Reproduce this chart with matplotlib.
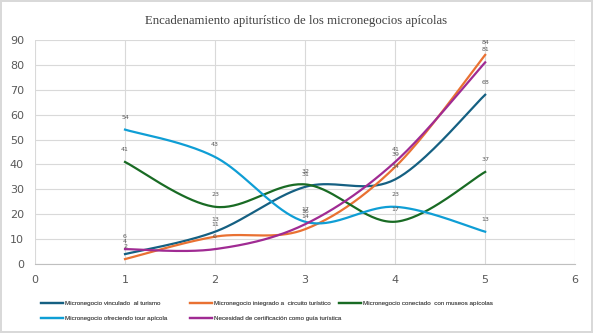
import matplotlib.pyplot as plt
import numpy as np

x = [1, 2, 3, 4, 5]
vinculado = [4, 13, 31, 34, 68]
integrado = [2, 11, 14, 39, 84]
conectado = [41, 23, 32, 17, 37]
tour = [54, 43, 17, 23, 13]
certificacion = [6, 6, 16, 41, 81]

series = [
    ("Micronegocio vinculado  al turismo", vinculado, "#156082"),
    ("Micronegocio integrado a  circuito turístico", integrado, "#E97132"),
    ("Micronegocio conectado  con museos apícolas", conectado, "#196B24"),
    ("Micronegocio ofreciendo tour apícola", tour, "#0F9ED5"),
    ("Necesidad de certificación como guía turística", certificacion, "#A02B93"),
]


def smooth(xs, ys, n=40):
    # catmull-rom through the points, like excel's smoothed line
    xs = np.asarray(xs, float)
    ys = np.asarray(ys, float)
    px = np.concatenate([[xs[0]], xs, [xs[-1]]])
    py = np.concatenate([[ys[0]], ys, [ys[-1]]])
    ox, oy = [], []
    for i in range(1, len(px) - 2):
        t = np.linspace(0, 1, n)
        for arr, out in ((px, ox), (py, oy)):
            p0, p1, p2, p3 = arr[i - 1], arr[i], arr[i + 1], arr[i + 2]
            m1 = (p2 - p0) / 2
            m2 = (p3 - p1) / 2
            h00 = 2 * t**3 - 3 * t**2 + 1
            h10 = t**3 - 2 * t**2 + t
            h01 = -2 * t**3 + 3 * t**2
            h11 = t**3 - t**2
            out.extend(h00 * p1 + h10 * m1 + h01 * p2 + h11 * m2)
    return np.array(ox), np.array(oy)


fig = plt.figure(figsize=(5.93, 3.33), dpi=100)
fig.patch.set_edgecolor("#d9d9d9")
fig.patch.set_linewidth(1.5)
ax = fig.add_axes([0.059, 0.207, 0.911, 0.673])

lines = []
for label, ys, color in series:
    sx, sy = smooth(x, ys)
    ln, = ax.plot(sx, sy, color=color, lw=1.6, label=label)
    lines.append(ln)
    for xi, yi in zip(x, ys):
        ax.annotate(str(yi), (xi, yi), xytext=(0, 9), textcoords="offset points",
                    ha="center", va="center", fontsize=4.5, color="#595959")

ax.set_xlim(0, 6)
ax.set_ylim(0, 90)
ax.set_xticks(range(0, 7))
ax.set_yticks(range(0, 91, 10))
ax.grid(True, color="#d9d9d9", lw=0.8)
ax.set_axisbelow(True)
for s in ["top", "right", "left"]:
    ax.spines[s].set_visible(False)
ax.spines["bottom"].set_color("#bfbfbf")
ax.tick_params(length=0, labelsize=8, colors="#595959", pad=8)

fig.suptitle("Encadenamiento apiturístico de los micronegocios apícolas",
             y=0.955, fontsize=9.2, family="Liberation Serif", color="#404040")

# one legend per column so the columns line up like excel's
columns = [[0, 3], [1, 4], [2]]
col_x = [38, 187, 336]
for idx, cx in zip(columns, col_x):
    leg = fig.legend([lines[i] for i in idx], [series[i][0] for i in idx],
                     loc="upper left", bbox_to_anchor=(cx / 593, 1 - 298 / 333),
                     prop={"family": "Liberation Sans", "size": 4.5},
                     frameon=False, handlelength=3.6, handletextpad=0.3,
                     labelspacing=1.6, labelcolor="#595959", borderaxespad=0)
    fig.add_artist(leg)

fig.savefig("out.png", dpi=100, edgecolor=fig.get_edgecolor())
